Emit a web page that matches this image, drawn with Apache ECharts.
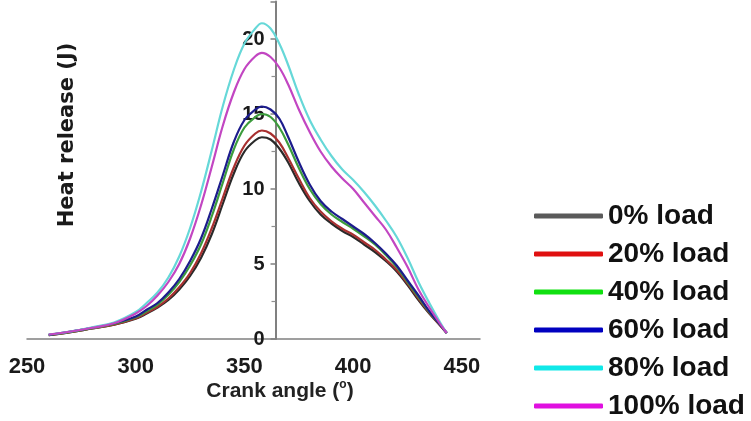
<!DOCTYPE html>
<html>
<head>
<meta charset="utf-8">
<script src="https://cdn.jsdelivr.net/npm/echarts@6/dist/echarts.min.js"></script>
<style>html,body{margin:0;padding:0;background:#fff}#c{width:751px;height:421px}</style>
</head>
<body>
<div id="c"></div>
<script>
var crankAngle = [260,270,280,290,300,305,310,315,320,325,330,335,340,345,350,355,358,362,366,370,375,380,385,390,395,400,405,410,415,420,425,430,435,440,443];
var load0   = [0.25,0.45,0.7,0.95,1.35,1.7,2.1,2.6,3.3,4.2,5.4,7.0,9.0,11.0,12.5,13.25,13.45,13.3,12.7,11.8,10.4,9.2,8.3,7.7,7.2,6.8,6.3,5.8,5.2,4.5,3.6,2.6,1.7,0.9,0.4];
var load20  = [0.25,0.45,0.7,0.95,1.38,1.75,2.15,2.7,3.45,4.4,5.7,7.4,9.4,11.4,12.9,13.7,13.9,13.7,13.1,12.1,10.7,9.4,8.5,7.85,7.35,6.95,6.45,5.95,5.3,4.6,3.7,2.7,1.75,0.9,0.4];
var load40  = [0.28,0.48,0.72,1.0,1.45,1.85,2.3,2.95,3.8,4.9,6.3,8.2,10.4,12.6,14.1,14.8,15.0,14.8,14.1,13.0,11.4,10.0,9.0,8.3,7.8,7.35,6.85,6.3,5.6,4.8,3.8,2.8,1.8,0.95,0.4];
var load60  = [0.28,0.5,0.75,1.05,1.5,1.95,2.4,3.1,4.0,5.2,6.7,8.7,10.9,13.1,14.6,15.3,15.5,15.3,14.7,13.5,11.8,10.3,9.2,8.5,8.0,7.5,7.0,6.4,5.7,4.9,3.9,2.9,1.85,0.95,0.4];
var load80  = [0.3,0.5,0.78,1.1,1.8,2.4,3.1,4.1,5.5,7.4,9.8,12.6,15.5,17.9,19.7,20.7,21.05,20.7,19.7,18.3,16.3,14.6,13.3,12.2,11.3,10.6,9.8,8.9,7.9,6.8,5.4,3.8,2.4,1.1,0.4];
var load100 = [0.3,0.5,0.75,1.05,1.7,2.2,2.9,3.8,5.0,6.7,8.9,11.5,14.2,16.4,18.0,18.85,19.07,18.8,18.1,17.0,15.3,13.8,12.5,11.5,10.7,10.0,9.1,8.2,7.3,6.1,4.8,3.3,2.1,1.0,0.4];
var seriesNames = ['0% load','20% load','40% load','60% load','80% load','100% load'];
var lineColors = ['#2a2a2a','#a83030','#3c9c3c','#1c1c8c','#66d8d8','#c246c2'];
var legendColors = ['#5a5a5a','#e01010','#10e010','#0000c0','#10e8e8','#e010e0'];
var xTicks = [250,300,350,400,450];
var yTicks = [0,5,10,15,20];

var allData = [load0, load20, load40, load60, load80, load100];
var chart = echarts.init(document.getElementById('c'), null, {renderer:'canvas'});
var series = allData.map(function(arr, i){
  return {
    name: seriesNames[i], type:'line', smooth:0.4, showSymbol:false,
    xAxisIndex:0, yAxisIndex:0,
    lineStyle:{width:2.2, color:lineColors[i]}, itemStyle:{color:lineColors[i]},
    data: crankAngle.map(function(x,j){return [x, arr[j]];})
  };
});
var sansFont = "'Liberation Sans',Arial,sans-serif";
chart.setOption({
  animation:false,
  grid:[
    {left:27, width:453, top:1.5, height:337.5},
    {left:275.5, width:100, top:1.5, height:337.5}
  ],
  xAxis:[
    {type:'value', gridIndex:0, min:xTicks[0], max:458.3, interval:50,
     axisLine:{show:true, lineStyle:{color:'#808080', width:1.5}},
     axisTick:{show:false}, splitLine:{show:false},
     axisLabel:{margin:17, fontSize:22, fontWeight:'bold', color:'#1a1a1a', fontFamily:sansFont,
       customValues: xTicks}},
    {type:'value', gridIndex:1, show:false, min:0, max:1}
  ],
  yAxis:[
    {type:'value', gridIndex:0, show:false, min:0, max:22.5},
    {type:'value', gridIndex:1, min:0, max:22.5, interval:5,
     axisLine:{show:true, lineStyle:{color:'#808080', width:2}},
     axisTick:{show:true, length:5, lineStyle:{color:'#808080', width:1.5}},
     minorTick:{show:true, splitNumber:2, length:4, lineStyle:{color:'#909090', width:1.2}},
     splitLine:{show:false},
     axisLabel:{margin:11, fontSize:20, fontWeight:'bold', color:'#1a1a1a', fontFamily:sansFont,
       customValues: yTicks}}
  ],
  legend:{
    orient:'vertical', left:534, top:202, height:240, padding:0, itemWidth:69, itemHeight:5, itemGap:10,
    icon:'roundRect',
    textStyle:{fontSize:28, fontWeight:'bold', color:'#111', fontFamily:sansFont, lineHeight:28},
    data: seriesNames.map(function(n,i){return {name:n, itemStyle:{color:legendColors[i]}};})
  },
  graphic:[
    {type:'text', x:68, y:135, rotation:Math.PI/2,
     style:{text:'Heat release (J)', fill:'#1a1a1a', font:"bold 21px 'DejaVu Sans',sans-serif", align:'center', verticalAlign:'middle'}},
    {type:'text', x:280, y:391,
     style:{text:'{a|Crank angle (}{s|o}{a|)}', align:'center', verticalAlign:'middle',
       rich:{
         a:{fontSize:21, fontWeight:'bold', fill:'#222', fontFamily:sansFont, lineHeight:24},
         s:{fontSize:12, fontWeight:'bold', fill:'#222', fontFamily:sansFont, lineHeight:13, verticalAlign:'top'}
       }}}
  ],
  series: series
});
</script>
</body>
</html>
